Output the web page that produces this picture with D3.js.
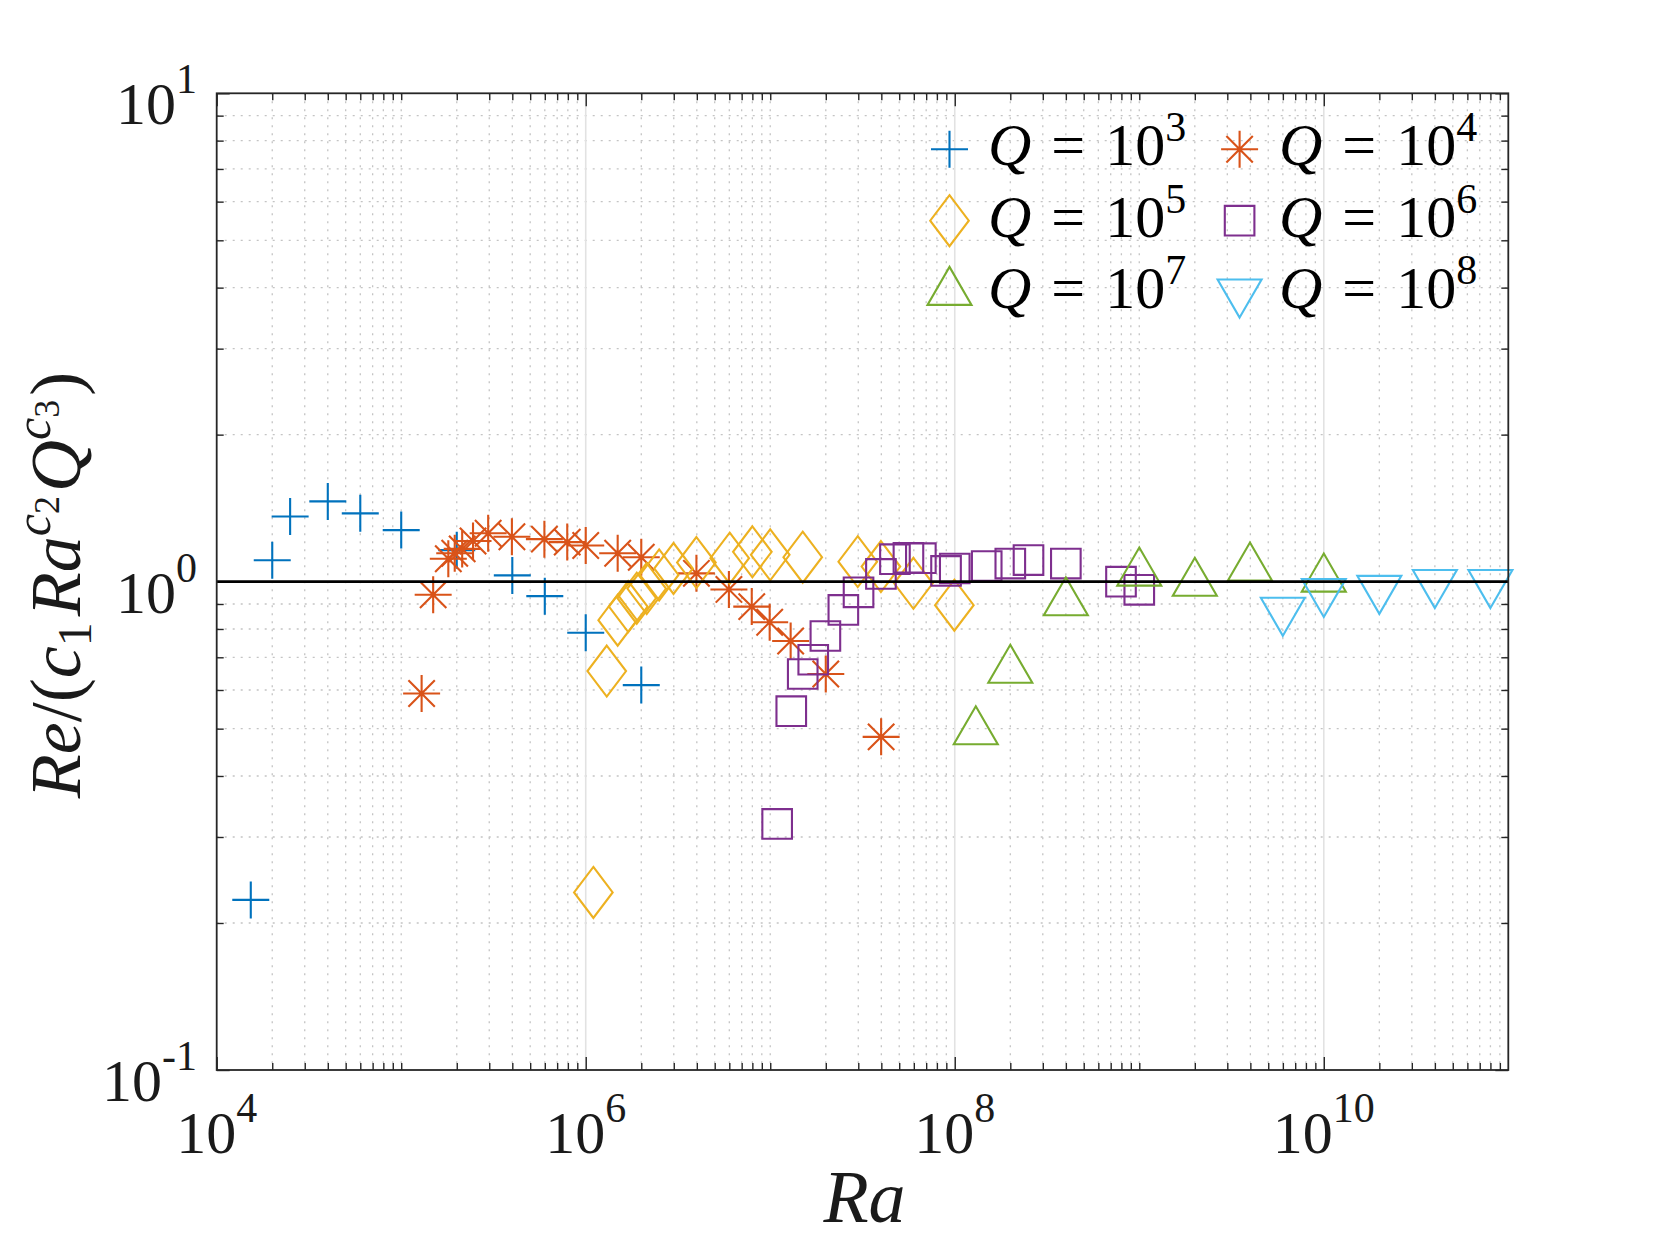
<!DOCTYPE html>
<html><head><meta charset="utf-8">
<script src="https://cdn.jsdelivr.net/npm/d3@7"></script>
<style>body{margin:0;background:#fff;} svg{display:block;}</style>
</head><body>
<svg id="chart" width="1667" height="1250"></svg>
<script>
// ---------------- data ----------------
const qExponents = [3, 4, 5, 6, 7, 8];
const seriesColors = ["#0072BD", "#D95319", "#EDB120", "#7E2F8E", "#77AC30", "#4DBEEE"];
const seriesMarkers = ["plus", "asterisk", "diamond", "square", "triUp", "triDown"];

const raQ3 = [1.53e4, 2e4, 2.5e4, 4e4, 6e4, 1e5, 2e5, 4e5, 6e5, 1e6, 2e6];
const reQ3 = [0.223, 1.106, 1.36, 1.46, 1.38, 1.275, 1.16, 1.03, 0.934, 0.786, 0.614];

const raQ4 = [1.29e5, 1.49e5, 1.8e5, 1.95e5, 2.14e5, 2.45e5, 2.96e5, 3.98e5, 5.97e5, 7.94e5, 1e6,
              1.49e6, 2e6, 3.98e6, 5.97e6, 7.94e6, 9.93e6, 1.29e7, 2e7, 3.99e7];
const reQ4 = [0.590, 0.940, 1.114, 1.143, 1.167, 1.211, 1.256, 1.236, 1.222, 1.205, 1.186,
              1.143, 1.122, 1.040, 0.964, 0.889, 0.826, 0.756, 0.647, 0.481];

const raQ5 = [1.1e6, 1.3e6, 1.49e6, 1.7e6, 1.89e6, 2.14e6, 2.5e6, 2.99e6, 3.98e6, 6.03e6, 8e6,
              1e7, 1.5e7, 2.98e7, 3.98e7, 5.97e7, 9.95e7];
const reQ5 = [0.231, 0.656, 0.834, 0.889, 0.925, 0.968, 1.032, 1.064, 1.094, 1.117, 1.151,
              1.135, 1.122, 1.099, 1.074, 0.992, 0.895];

const raQ6 = [1.09e7, 1.3e7, 1.5e7, 1.71e7, 1.99e7, 2.49e7, 3.01e7, 3.98e7, 4.74e7, 5.61e7, 6.55e7,
              8.97e7, 1e8, 1.49e8, 2e8, 2.51e8, 4e8, 7.96e8, 1e9];
const reQ6 = [0.319, 0.543, 0.647, 0.692, 0.774, 0.875, 0.951, 1.037, 1.112, 1.119, 1.117,
              1.052, 1.064, 1.076, 1.089, 1.107, 1.089, 1.0, 0.962];

const raQ7 = [1.3e8, 2e8, 4e8, 1e9, 2e9, 3.98e9, 1e10];
const reQ7 = [0.493, 0.659, 0.906, 1.042, 0.993, 1.067, 1.013];

const raQ8 = [6e9, 1e10, 2e10, 4e10, 8e10];
const reQ8 = [0.873, 0.954, 0.968, 0.995, 0.995];

const xTickExponents = [4, 6, 8, 10];
const yTickExponents = [-1, 0, 1];
const xDomain = [1e4, 1e11];
const yDomain = [0.1, 10];
const referenceLevel = 1;

const allRa = [raQ3, raQ4, raQ5, raQ6, raQ7, raQ8];
const allRe = [reQ3, reQ4, reQ5, reQ6, reQ7, reQ8];

// ---------------- layout ----------------
const L = 216.7, R = 1508.3, T = 93.3, B = 1070;
const svg = d3.select("#chart");
const x = d3.scaleLog().domain(xDomain).range([L, R]);
const y = d3.scaleLog().domain(yDomain).range([B, T]);
const serif = "'Liberation Serif', 'Times New Roman', serif";

// tick sets
const xMajor = [];
for (let e = 4; e <= 11; e += 2) xMajor.push(Math.pow(10, e));
const xMinor = [];
for (let e = 4; e <= 10; e++) {
  for (let m = 1; m <= 9; m++) {
    const v = m * Math.pow(10, e);
    if (v <= xDomain[0] || v >= xDomain[1]) continue;
    if (m === 1 && e % 2 === 0) continue;
    xMinor.push(v);
  }
}
const yMajor = [0.1, 1, 10];
const yMinor = [];
for (let e = -1; e <= 0; e++) for (let m = 2; m <= 9; m++) yMinor.push(m * Math.pow(10, e));

// ---------------- grid ----------------
const grid = svg.append("g");
grid.selectAll(".gxm").data(xMinor).join("line")
  .attr("x1", d => x(d)).attr("x2", d => x(d)).attr("y1", T).attr("y2", B)
  .attr("stroke", "#c4c4c4").attr("stroke-width", 1.3).attr("stroke-dasharray", "2,6");
grid.selectAll(".gym").data(yMinor).join("line")
  .attr("y1", d => y(d)).attr("y2", d => y(d)).attr("x1", L).attr("x2", R)
  .attr("stroke", "#c4c4c4").attr("stroke-width", 1.3).attr("stroke-dasharray", "2,6");
grid.selectAll(".gxM").data(xMajor.filter(v => v > xDomain[0] && v < xDomain[1])).join("line")
  .attr("x1", d => x(d)).attr("x2", d => x(d)).attr("y1", T).attr("y2", B)
  .attr("stroke", "#e2e2e2").attr("stroke-width", 1.6);

// ---------------- axes (inward ticks on all sides) ----------------
const axColor = "#262626";
function styleAxis(g) {
  g.select(".domain").remove();
  g.selectAll("line").attr("stroke", axColor).attr("stroke-width", 1.4);
}
svg.append("g").attr("transform", `translate(0,${B})`)
  .call(d3.axisBottom(x).tickValues(xMajor.filter(v => v <= xDomain[1])).tickSize(-13).tickFormat("")).call(styleAxis);
svg.append("g").attr("transform", `translate(0,${B})`)
  .call(d3.axisBottom(x).tickValues(xMinor).tickSize(-7).tickFormat("")).call(styleAxis);
svg.append("g").attr("transform", `translate(0,${T})`)
  .call(d3.axisTop(x).tickValues(xMajor.filter(v => v <= xDomain[1])).tickSize(-13).tickFormat("")).call(styleAxis);
svg.append("g").attr("transform", `translate(0,${T})`)
  .call(d3.axisTop(x).tickValues(xMinor).tickSize(-7).tickFormat("")).call(styleAxis);
svg.append("g").attr("transform", `translate(${L},0)`)
  .call(d3.axisLeft(y).tickValues(yMajor).tickSize(-13).tickFormat("")).call(styleAxis);
svg.append("g").attr("transform", `translate(${L},0)`)
  .call(d3.axisLeft(y).tickValues(yMinor).tickSize(-7).tickFormat("")).call(styleAxis);
svg.append("g").attr("transform", `translate(${R},0)`)
  .call(d3.axisRight(y).tickValues(yMajor).tickSize(-13).tickFormat("")).call(styleAxis);
svg.append("g").attr("transform", `translate(${R},0)`)
  .call(d3.axisRight(y).tickValues(yMinor).tickSize(-7).tickFormat("")).call(styleAxis);

// ---------------- markers ----------------
function markerPath(type, s) {
  s = s || 1;
  switch (type) {
    case "plus": { const h = 18.5 * s; return `M${-h},0H${h}M0,${-h}V${h}`; }
    case "asterisk": { const h = 18.5 * s, d = 13.2 * s;
      return `M${-h},0H${h}M0,${-h}V${h}M${-d},${-d}L${d},${d}M${-d},${d}L${d},${-d}`; }
    case "diamond": { const w = 19.3 * s, hh = 25.5 * s; return `M0,${-hh}L${w},0L0,${hh}L${-w},0Z`; }
    case "square": { const h = 14.8 * s; return `M${-h},${-h}H${h}V${h}H${-h}Z`; }
    case "triUp": { const w = 22 * s, hh = 38 * s; return `M0,${-hh * 2 / 3}L${w},${hh / 3}L${-w},${hh / 3}Z`; }
    case "triDown": { const w = 22 * s, hh = 38 * s; return `M0,${hh * 2 / 3}L${w},${-hh / 3}L${-w},${-hh / 3}Z`; }
  }
}

const plotArea = svg.append("g");
qExponents.forEach((q, i) => {
  const pts = allRa[i].map((ra, j) => ({ ra, re: allRe[i][j] }));
  plotArea.append("g").selectAll("path").data(pts).join("path")
    .attr("transform", d => `translate(${x(d.ra)},${y(d.re)})`)
    .attr("d", markerPath(seriesMarkers[i]))
    .attr("fill", "none").attr("stroke", seriesColors[i]).attr("stroke-width", 2.1);
});

// reference line
svg.append("line").attr("x1", x(xDomain[0])).attr("x2", x(xDomain[1]))
  .attr("y1", y(referenceLevel)).attr("y2", y(referenceLevel))
  .attr("stroke", "#000").attr("stroke-width", 2.6);

// box
svg.append("rect").attr("x", L).attr("y", T).attr("width", R - L).attr("height", B - T)
  .attr("fill", "none").attr("stroke", axColor).attr("stroke-width", 1.8);

// ---------------- tick labels ----------------
const xl = svg.append("g").attr("font-family", serif).attr("fill", "#1a1a1a");
xTickExponents.forEach(e => {
  const t = xl.append("text").attr("x", x(Math.pow(10, e))).attr("y", 1153)
    .attr("text-anchor", "middle").attr("font-size", 60);
  t.append("tspan").text("10");
  t.append("tspan").attr("dy", -31).attr("font-size", 42).text(String(e));
});
const yl = svg.append("g").attr("font-family", serif).attr("fill", "#1a1a1a");
yTickExponents.forEach(e => {
  const t = yl.append("text").attr("x", 197).attr("y", y(Math.pow(10, e)) + 31)
    .attr("text-anchor", "end").attr("font-size", 60);
  t.append("tspan").text("10");
  t.append("tspan").attr("dy", -31).attr("font-size", 42).text(String(e));
});

// ---------------- axis labels ----------------
svg.append("text").attr("x", (L + R) / 2 + 2).attr("y", 1222).attr("text-anchor", "middle")
  .attr("font-family", serif).attr("font-style", "italic").attr("font-size", 74)
  .attr("fill", "#1a1a1a").text("Ra");

const yLab = svg.append("text").attr("transform", `translate(80,585) rotate(-90)`)
  .attr("text-anchor", "middle").attr("font-family", serif).attr("font-size", 72).attr("fill", "#1a1a1a");
yLab.append("tspan").attr("font-style", "italic").text("Re");
yLab.append("tspan").text("/(");
yLab.append("tspan").attr("font-style", "italic").text("c");
yLab.append("tspan").attr("font-size", 48).attr("dy", 11).text("1");
yLab.append("tspan").attr("font-style", "italic").attr("dy", -11).attr("dx", 6).text("Ra");
yLab.append("tspan").attr("font-style", "italic").attr("font-size", 50).attr("dy", -30).text("c");
yLab.append("tspan").attr("font-size", 36).attr("dy", 9).text("2");
yLab.append("tspan").attr("font-style", "italic").attr("dy", 21).attr("dx", 4).text("Q");
yLab.append("tspan").attr("font-style", "italic").attr("font-size", 50).attr("dy", -30).text("c");
yLab.append("tspan").attr("font-size", 36).attr("dy", 9).text("3");
yLab.append("tspan").attr("dy", 21).attr("dx", 4).text(")");

// ---------------- legend ----------------
const legMarkerX = [949.5, 1239.6];
const legTextX = [988, 1279];
const legRowY = [149.3, 220.7, 292.2];
const leg = svg.append("g");
qExponents.forEach((q, i) => {
  const col = i % 2, row = Math.floor(i / 2);
  const cy = legRowY[row];
  leg.append("path").attr("transform", `translate(${legMarkerX[col]},${cy})`)
    .attr("d", markerPath(seriesMarkers[i]))
    .attr("fill", "none").attr("stroke", seriesColors[i]).attr("stroke-width", 2.1);
  const x0 = legTextX[col], by = cy + 16;
  const t = leg.append("text").attr("x", x0).attr("y", by).attr("font-family", serif)
    .attr("font-size", 60).attr("fill", "#000").style("white-space", "pre");
  t.append("tspan").attr("font-style", "italic").text("Q");
  t.append("tspan").attr("dx", 20).text("=");
  t.append("tspan").attr("dx", 20).text("10");
  t.append("tspan").attr("dy", -24).attr("font-size", 42).text(String(q));
});
</script>
</body></html>
